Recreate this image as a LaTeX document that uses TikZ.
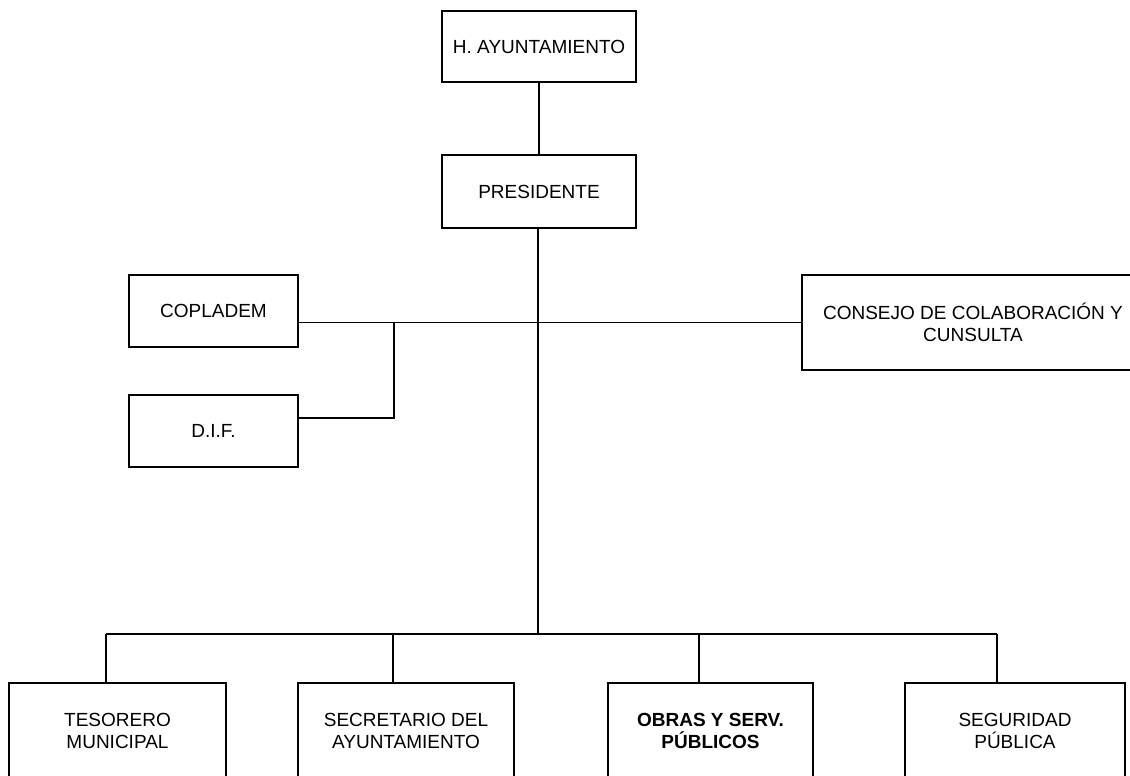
\documentclass[tikz,border=0pt]{standalone}
\usepackage{fontspec}
\setmainfont{Liberation Sans}
\usepackage{tikz}

\tikzset{
  box/.style={draw, line width=1.4pt, align=center, inner sep=0pt,
    font=\fontsize{19}{22}\selectfont},
  link/.style={line width=1.4pt}
}

\begin{document}
\begin{tikzpicture}[x=1pt, y=-1pt]
\clip (0,0) rectangle (1130,776);
\node [box, minimum width=194pt, minimum height=71pt] (ayunt) at (539, 46.5) {H. AYUNTAMIENTO};
\node [box, minimum width=194pt, minimum height=73pt] (pres) at (539, 191.5) {PRESIDENTE};
\node [box, minimum width=169pt, minimum height=72pt] (copl) at (213.5, 311) {COPLADEM};
\node [box, minimum width=169pt, minimum height=72pt] (dif) at (213.5, 431) {D.I.F.};
\node [box, minimum width=342pt, minimum height=95pt] (cons) at (973, 322.5) {CONSEJO DE COLABORACIÓN Y\\CUNSULTA};
\node [box, minimum width=217pt, minimum height=96pt] (tes) at (117.5, 731) {TESORERO\\MUNICIPAL};
\node [box, minimum width=216pt, minimum height=96pt] (sec) at (406, 731) {SECRETARIO DEL\\AYUNTAMIENTO};
\node [box, minimum width=205pt, minimum height=96pt] (obras) at (710.5, 731) {\bfseries OBRAS Y SERV.\\\bfseries PÚBLICOS};
\node [box, minimum width=220pt, minimum height=96pt] (seg) at (1015, 731) {SEGURIDAD\\PÚBLICA};
\coordinate (bus) at (538, 634);
\coordinate (difj) at (394, 418);
\coordinate (dtes) at (106, 634);
\coordinate (dsec) at (393, 634);
\coordinate (dobras) at (699, 634);
\coordinate (dseg) at (997, 634);
\draw [link] (ayunt) -- (pres);
\draw [link] (pres.south -| bus) -- (bus);
\draw [link] (copl.east |- cons.west) -- (cons.west);
\draw [link] (copl.east |- cons.west) -| (difj) -- (dif.east |- difj);
\draw [link] (dtes) -- (dseg);
\draw [link] (dtes) -- (dtes |- tes.north);
\draw [link] (dsec) -- (dsec |- sec.north);
\draw [link] (dobras) -- (dobras |- obras.north);
\draw [link] (dseg) -- (dseg |- seg.north);
\end{tikzpicture}
\end{document}
